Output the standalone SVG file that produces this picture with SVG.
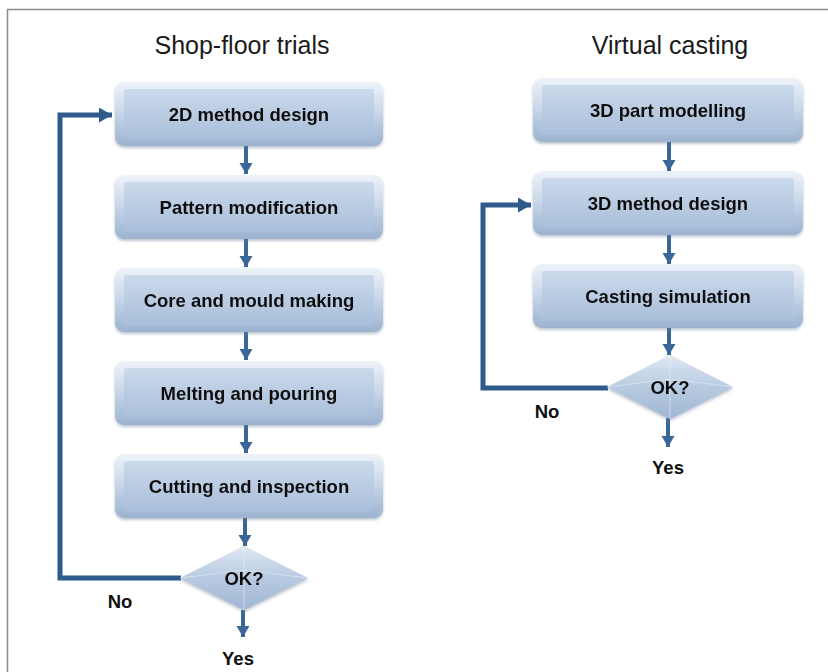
<svg xmlns="http://www.w3.org/2000/svg" width="828" height="672" viewBox="0 0 828 672">
<style>
.title{font-family:"Liberation Sans",Arial,sans-serif;font-size:25px;fill:#1a1a1a;text-anchor:middle}
.lbl{font-family:"Liberation Sans",Arial,sans-serif;font-size:18.5px;font-weight:bold;fill:#111;text-anchor:middle}
.body{fill:url(#bodyG)}
.conn{stroke:#3a6798;stroke-width:4;fill:none}
.loop{stroke:#2f5a8c;stroke-width:5;fill:none}
</style>
<defs>
<linearGradient id="bodyG" x1="0" y1="0" x2="0" y2="1">
<stop offset="0" stop-color="#cbd9eb"/>
<stop offset="1" stop-color="#a9bfda"/>
</linearGradient>
<linearGradient id="edgeG" x1="0" y1="0" x2="0" y2="1">
<stop offset="0" stop-color="#eef3f9"/>
<stop offset="0.5" stop-color="#c6d5e8"/>
<stop offset="1" stop-color="#9bb2cf"/>
</linearGradient>
<linearGradient id="diaG" x1="0" y1="0" x2="0" y2="1">
<stop offset="0" stop-color="#dfe8f3"/>
<stop offset="0.5" stop-color="#b8cae1"/>
<stop offset="1" stop-color="#9fb6d3"/>
</linearGradient>
<filter id="sh" x="-10%" y="-10%" width="120%" height="130%">
<feDropShadow dx="0" dy="2" stdDeviation="1.5" flood-color="#6c7f96" flood-opacity="0.45"/>
</filter>
<marker id="ah" markerUnits="userSpaceOnUse" markerWidth="14" markerHeight="14" refX="11" refY="6.5" orient="auto">
<path d="M0,0 L11,6.5 L0,13 Z" fill="#3a6798"/>
</marker>
<marker id="ahL" markerUnits="userSpaceOnUse" markerWidth="16" markerHeight="16" refX="13" refY="7.5" orient="auto">
<path d="M0,0 L13,7.5 L0,15 Z" fill="#2f5a8c"/>
</marker>
</defs>
<rect width="828" height="672" fill="#ffffff"/>
<path d="M7.5,672 V9.5 H828" fill="none" stroke="#8c8c8c" stroke-width="1.5"/>

<text class="title" x="242" y="54">Shop-floor trials</text>
<text class="title" x="670" y="54">Virtual casting</text>

<g id="connectors">
<line class="conn" x1="246" y1="146" x2="246" y2="174" marker-end="url(#ah)"/>
<line class="conn" x1="246" y1="239" x2="246" y2="267" marker-end="url(#ah)"/>
<line class="conn" x1="246" y1="332" x2="246" y2="360" marker-end="url(#ah)"/>
<line class="conn" x1="246" y1="425" x2="246" y2="453" marker-end="url(#ah)"/>
<line class="conn" x1="245" y1="518" x2="245" y2="546" marker-end="url(#ah)"/>
<line class="conn" x1="243" y1="610" x2="243" y2="637" marker-end="url(#ah)"/>
<path class="loop" d="M181,578 H60 V115 H112" marker-end="url(#ahL)"/>
<line class="conn" x1="669" y1="142" x2="669" y2="171" marker-end="url(#ah)"/>
<line class="conn" x1="669" y1="235" x2="669" y2="264" marker-end="url(#ah)"/>
<line class="conn" x1="669" y1="328" x2="669" y2="355" marker-end="url(#ah)"/>
<line class="conn" x1="668" y1="418" x2="668" y2="447" marker-end="url(#ah)"/>
<path class="loop" d="M608,388 H483 V205 H531" marker-end="url(#ahL)"/>
</g>

<g id="n1" filter="url(#sh)">
<rect x="115" y="82" width="268" height="64" rx="9" fill="url(#edgeG)"/>
<rect x="124" y="89" width="250" height="50" rx="3" class="body"/>
<text class="lbl" x="249" y="121">2D method design</text>
</g>
<g id="n2" filter="url(#sh)">
<rect x="115" y="175" width="268" height="64" rx="9" fill="url(#edgeG)"/>
<rect x="124" y="182" width="250" height="50" rx="3" class="body"/>
<text class="lbl" x="249" y="214">Pattern modification</text>
</g>
<g id="n3" filter="url(#sh)">
<rect x="115" y="268" width="268" height="64" rx="9" fill="url(#edgeG)"/>
<rect x="124" y="275" width="250" height="50" rx="3" class="body"/>
<text class="lbl" x="249" y="307">Core and mould making</text>
</g>
<g id="n4" filter="url(#sh)">
<rect x="115" y="361" width="268" height="64" rx="9" fill="url(#edgeG)"/>
<rect x="124" y="368" width="250" height="50" rx="3" class="body"/>
<text class="lbl" x="249" y="400">Melting and pouring</text>
</g>
<g id="n5" filter="url(#sh)">
<rect x="115" y="454" width="268" height="64" rx="9" fill="url(#edgeG)"/>
<rect x="124" y="461" width="250" height="50" rx="3" class="body"/>
<text class="lbl" x="249" y="493">Cutting and inspection</text>
</g>
<g id="d1" filter="url(#sh)">
<polygon points="244,546 308,578 244,610 180,578" fill="url(#diaG)"/>
<path d="M180,578 L244,570 L308,578 M244,546 V610" stroke="#e6edf6" stroke-width="1" fill="none" opacity="0.6"/>
<text class="lbl" x="244" y="585">OK?</text>
</g>
<text class="lbl" x="120" y="608">No</text>
<text class="lbl" x="238" y="665">Yes</text>

<g id="m1" filter="url(#sh)">
<rect x="533" y="78" width="270" height="64" rx="9" fill="url(#edgeG)"/>
<rect x="542" y="85" width="252" height="50" rx="3" class="body"/>
<text class="lbl" x="668" y="117">3D part modelling</text>
</g>
<g id="m2" filter="url(#sh)">
<rect x="533" y="171" width="270" height="64" rx="9" fill="url(#edgeG)"/>
<rect x="542" y="178" width="252" height="50" rx="3" class="body"/>
<text class="lbl" x="668" y="210">3D method design</text>
</g>
<g id="m3" filter="url(#sh)">
<rect x="533" y="264" width="270" height="64" rx="9" fill="url(#edgeG)"/>
<rect x="542" y="271" width="252" height="50" rx="3" class="body"/>
<text class="lbl" x="668" y="303">Casting simulation</text>
</g>
<g id="d2" filter="url(#sh)">
<polygon points="670,355 733,387 670,419 607,387" fill="url(#diaG)"/>
<path d="M607,387 L670,379 L733,387 M670,355 V419" stroke="#e6edf6" stroke-width="1" fill="none" opacity="0.6"/>
<text class="lbl" x="670" y="394">OK?</text>
</g>
<text class="lbl" x="547" y="418">No</text>
<text class="lbl" x="668" y="474">Yes</text>
</svg>
